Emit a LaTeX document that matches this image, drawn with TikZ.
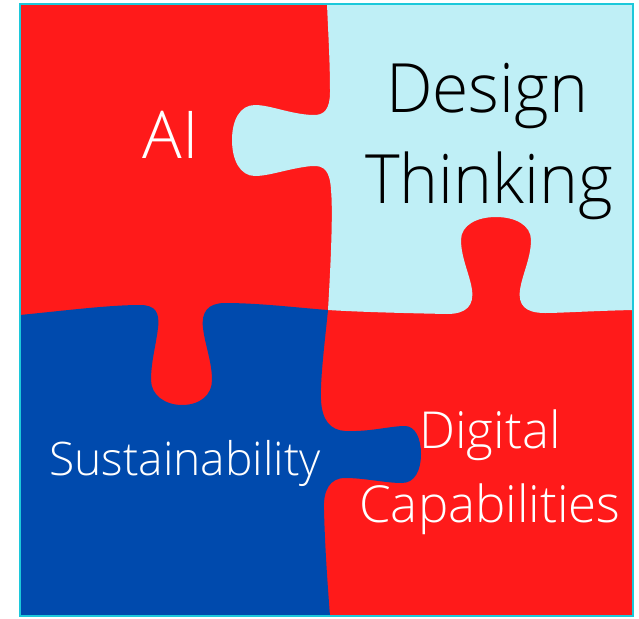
\documentclass[tikz,border=0pt]{standalone}
\usepackage{fontspec}
\setmainfont{Open Sans Light}
\newfontfamily\narrowfont[FakeStretch=0.97]{Open Sans Light}
\definecolor{piecered}{HTML}{FF1A1A}
\definecolor{piecesky}{HTML}{BFEFF6}
\definecolor{pieceblue}{HTML}{004AAD}
\definecolor{frameline}{HTML}{1CC8DA}
\begin{document}
\begin{tikzpicture}[x=1pt,y=-1pt,
  label/.style={inner sep=0pt,anchor=base},
  whitelabel/.style={label,text=white},
  blacklabel/.style={label,text=black}]
\useasboundingbox (0,0) rectangle (639,618);
% red background: the two red pieces
\fill[piecered] (20,4) rectangle (633,616);
% top-right piece
\fill[piecesky] (327,4) -- (633,4) -- (633,310)
  .. controls (590,311) and (560,313) .. (545,313)
  .. controls (525,313) and (518,305) .. (520,290)
  .. controls (522,275) and (531,258) .. (531,240)
  .. controls (531,225) and (515,217) .. (496,217)
  .. controls (477,217) and (461,225) .. (461,240)
  .. controls (461,258) and (470,275) .. (472,290)
  .. controls (474,305) and (467,314) .. (447,314)
  .. controls (400,313) and (360,312) .. (328,310)
  .. controls (331,260) and (333,210) .. (331,190)
  .. controls (330,172) and (325,165) .. (312,166)
  .. controls (290,168) and (270,176) .. (255,176)
  .. controls (240,176) and (232,160) .. (232,140)
  .. controls (232,120) and (240,105) .. (255,105)
  .. controls (270,105) and (290,114) .. (312,115)
  .. controls (325,116) and (330,108) .. (330,92)
  .. controls (330,60) and (328,30) .. (327,4) -- cycle;
% bottom-left piece
\fill[pieceblue] (20,616) -- (20,315)
  .. controls (70,310) and (110,305) .. (140,305)
  .. controls (155,305) and (160,312) .. (158,328)
  .. controls (156,345) and (151,362) .. (151,380)
  .. controls (151,395) and (165,405) .. (182,405)
  .. controls (200,405) and (212,395) .. (212,380)
  .. controls (212,362) and (205,345) .. (203,328)
  .. controls (201,312) and (208,303) .. (225,303)
  .. controls (260,303) and (300,308) .. (328,310)
  .. controls (325,340) and (320,380) .. (321,400)
  .. controls (322,420) and (330,430) .. (345,431)
  .. controls (370,432) and (390,426) .. (405,426)
  .. controls (415,426) and (421,438) .. (421,454)
  .. controls (421,470) and (415,483) .. (402,483)
  .. controls (385,483) and (365,478) .. (345,478)
  .. controls (330,478) and (323,490) .. (324,510)
  .. controls (325,550) and (328,590) .. (330,616) -- cycle;
% frame
\draw[frameline,line width=2.5pt] (20,4) rectangle (633,616);
% labels
\node[whitelabel,font=\fontsize{66}{66}\selectfont] (ai) at (171,158) {AI};
\node[blacklabel,font=\narrowfont\fontsize{68}{68}\selectfont] (design) at (487,112) {Design};
\node[blacklabel,font=\narrowfont\fontsize{68}{68}\selectfont] (thinking) at (489,203) {Thinking};
\node[whitelabel,font=\fontsize{46.2}{46.2}\selectfont] (sust) at (185,475) {Sustainability};
\node[whitelabel,font=\fontsize{51}{51}\selectfont] (digital) at (490,448) {Digital};
\node[whitelabel,font=\fontsize{51}{51}\selectfont] (capab) at (490,522) {Capabilities};
\end{tikzpicture}
\end{document}
